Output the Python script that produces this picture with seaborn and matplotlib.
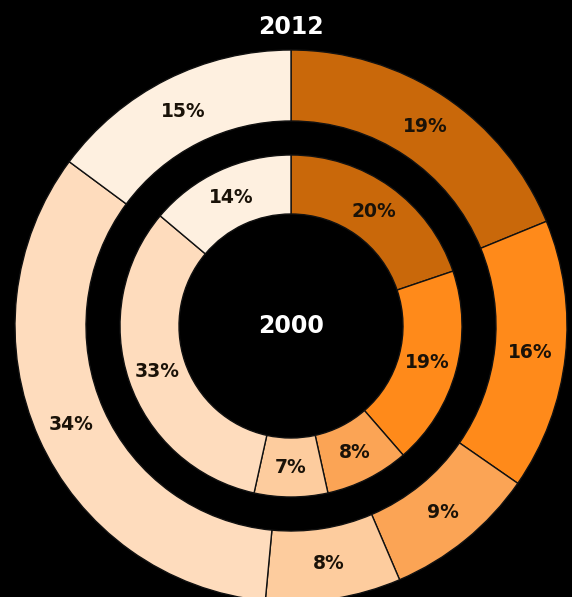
import matplotlib
matplotlib.use("Agg")
import matplotlib.pyplot as plt
import seaborn as sns

# Data (clockwise from top)
values_2012 = [19, 16, 9, 8, 34, 15]
values_2000 = [20, 19, 8, 7, 33, 14]
segment_colors = ["#c9680a", "#ff8a1a", "#fba455", "#fdcc9e", "#fedcbd", "#fef0e0"]
outer_title = "2012"
center_title = "2000"

sns.set_theme(style="dark")
plt.rcParams['font.family'] = ['DejaVu Sans']
palette = sns.color_palette(segment_colors)

W, H = 572, 597
fig = plt.figure(figsize=(W / 100, H / 100), dpi=100, facecolor="black")
ax = fig.add_axes([0, 0, 1, 1])
ax.set_facecolor("black")

R = 276.0
cx, cy = 291.0, 326.0  # pixel centre (from top-left)

def fmt(vals):
    tot = sum(vals)
    return lambda p: f"{p * tot / 100:.0f}%"

outer_r = 1.0
outer_w = (276 - 205) / R
inner_r = 171 / R
inner_w = (171 - 112) / R

txtkw = dict(fontsize=13.5, fontweight="bold", color="#1a1208")

ax.pie(values_2012, radius=outer_r, colors=palette, startangle=90,
       counterclock=False, autopct=fmt(values_2012),
       pctdistance=(240.5 / 276),
       wedgeprops=dict(width=outer_w, edgecolor="#111111", linewidth=1.0),
       textprops=txtkw, frame=True)
ax.pie(values_2000, radius=inner_r, colors=palette, startangle=90,
       counterclock=False, autopct=fmt(values_2000),
       pctdistance=(141.5 / 171),
       wedgeprops=dict(width=inner_w, edgecolor="#111111", linewidth=1.0),
       textprops=txtkw, frame=True)

ax.set_xlim(-cx / R, (W - cx) / R)
ax.set_ylim(-(H - cy) / R, cy / R)
ax.set_aspect("auto")
ax.axis("off")

ax.text(0, (cy - 27) / R, outer_title, ha="center", va="center", color="white",
        fontsize=17, fontweight="bold")
ax.text(0, 0, center_title, ha="center", va="center", color="white",
        fontsize=17, fontweight="bold")

fig.savefig("out.png", dpi=100, facecolor="black")
